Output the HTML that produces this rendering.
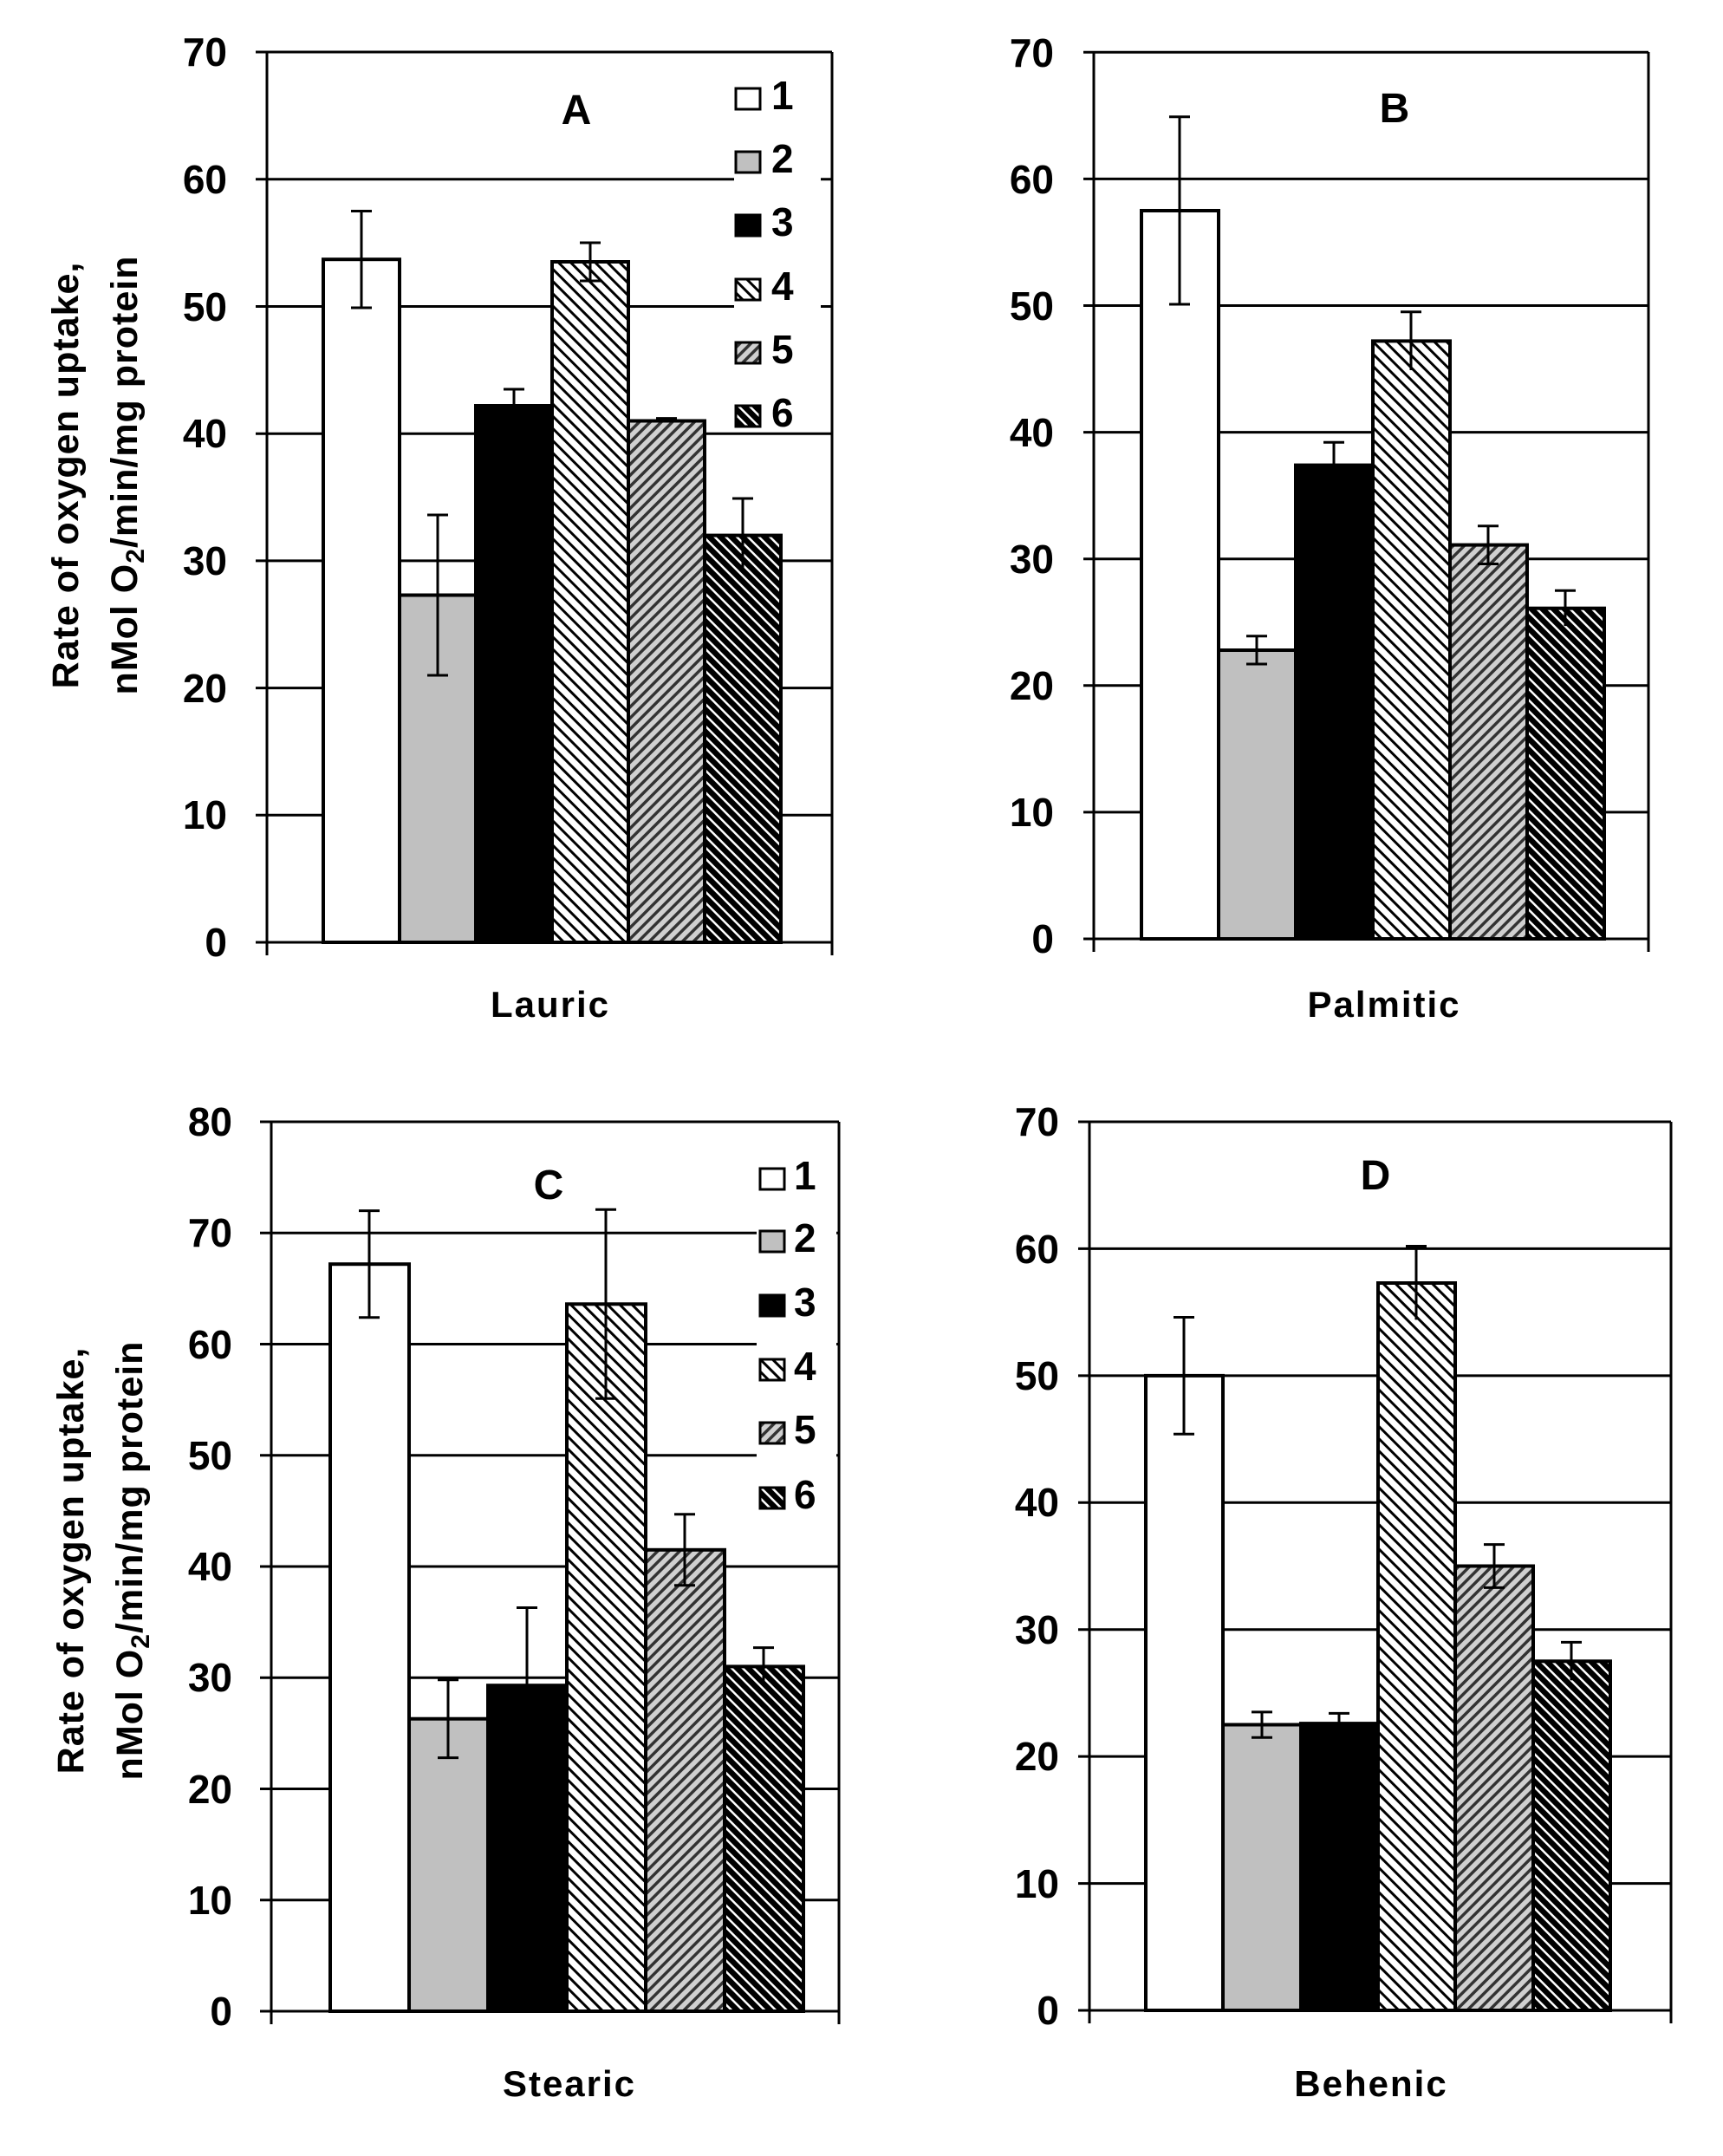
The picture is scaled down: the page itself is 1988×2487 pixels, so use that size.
<!DOCTYPE html>
<html><head><meta charset="utf-8"><style>
html,body{margin:0;padding:0;background:#fff;}
svg{display:block;}
text{font-family:"Liberation Sans",Arial,sans-serif;font-weight:bold;fill:#000;}
</style></head><body>
<svg width="1988" height="2487" viewBox="0 0 1988 2487" xmlns="http://www.w3.org/2000/svg">
<defs>
<pattern id="p4" patternUnits="userSpaceOnUse" width="10" height="10" patternTransform="rotate(-45)">
<rect width="10" height="10" fill="#fff"/><rect width="3" height="10" fill="#000"/></pattern>
<pattern id="p5" patternUnits="userSpaceOnUse" width="9" height="9" patternTransform="rotate(45)">
<rect width="9" height="9" fill="#d0d0d0"/><rect width="3.5" height="9" fill="#333"/></pattern>
<pattern id="p6" patternUnits="userSpaceOnUse" width="9" height="9" patternTransform="rotate(-45)">
<rect width="9" height="9" fill="#000"/><rect width="2.5" height="9" fill="#fff"/></pattern>
</defs>

<!-- ===== Panel A ===== -->
<g stroke="#000" stroke-width="3">
<line x1="295" y1="1087" x2="960" y2="1087"/>
<line x1="295" y1="940.3" x2="960" y2="940.3"/>
<line x1="295" y1="793.6" x2="960" y2="793.6"/>
<line x1="295" y1="646.9" x2="960" y2="646.9"/>
<line x1="295" y1="500.2" x2="960" y2="500.2"/>
<line x1="295" y1="353.5" x2="960" y2="353.5"/>
<line x1="295" y1="206.8" x2="960" y2="206.8"/>
<line x1="295" y1="60" x2="960" y2="60"/>
<line x1="308" y1="60" x2="308" y2="1102"/>
<line x1="960" y1="60" x2="960" y2="1102"/>
</g>
<rect x="847" y="97" width="100" height="400" fill="#fff"/>
<g stroke="#000" stroke-width="4">
<rect x="373" y="299.2" width="88" height="787.8" fill="#fff"/>
<rect x="461" y="686.5" width="88" height="400.5" fill="#c0c0c0"/>
<rect x="549" y="468" width="88" height="619" fill="#000"/>
<rect x="637" y="302" width="88" height="785" fill="url(#p4)"/>
<rect x="725" y="485.5" width="88" height="601.5" fill="url(#p5)"/>
<rect x="813" y="617.6" width="88" height="469.4" fill="url(#p6)"/>
</g>
<g stroke="#000" stroke-width="3">
<line x1="417" y1="243.5" x2="417" y2="355"/><line x1="405" y1="243.5" x2="429" y2="243.5"/><line x1="405" y1="355" x2="429" y2="355"/>
<line x1="505" y1="594" x2="505" y2="779"/><line x1="493" y1="594" x2="517" y2="594"/><line x1="493" y1="779" x2="517" y2="779"/>
<line x1="593" y1="449" x2="593" y2="487"/><line x1="581" y1="449" x2="605" y2="449"/>
<line x1="681" y1="280" x2="681" y2="324"/><line x1="669" y1="280" x2="693" y2="280"/><line x1="669" y1="324" x2="693" y2="324"/>
<line x1="757" y1="482.6" x2="781" y2="482.6"/>
<line x1="857" y1="575" x2="857" y2="660"/><line x1="845" y1="575" x2="869" y2="575"/>
</g>
<g font-size="46" text-anchor="end">
<text x="262" y="1103">0</text><text x="262" y="956">10</text><text x="262" y="810">20</text>
<text x="262" y="663">30</text><text x="262" y="516">40</text><text x="262" y="370">50</text>
<text x="262" y="223">60</text><text x="262" y="76">70</text>
</g>
<text x="665" y="143" font-size="48" text-anchor="middle">A</text>
<text x="635" y="1173" font-size="42" text-anchor="middle" letter-spacing="2">Lauric</text>
<g stroke="#000" stroke-width="3">
<rect x="849" y="102" width="28" height="24" fill="#fff"/>
<rect x="849" y="175" width="28" height="24" fill="#c0c0c0"/>
<rect x="849" y="248" width="28" height="24" fill="#000"/>
<rect x="849" y="322" width="28" height="24" fill="url(#p4)"/>
<rect x="849" y="395" width="28" height="24" fill="url(#p5)"/>
<rect x="849" y="468" width="28" height="24" fill="url(#p6)"/>
</g>
<g font-size="46">
<text x="890" y="126">1</text><text x="890" y="199">2</text><text x="890" y="272">3</text>
<text x="890" y="346">4</text><text x="890" y="419">5</text><text x="890" y="492">6</text>
</g>
<g font-size="43" text-anchor="middle" letter-spacing="1">
<text transform="translate(90,548) rotate(-90)">Rate of oxygen uptake,</text>
<text transform="translate(158,548) rotate(-90)">nMol O<tspan font-size="30" dy="8">2</tspan><tspan dy="-8">/min/mg protein</tspan></text>
</g>

<!-- ===== Panel B ===== -->
<g stroke="#000" stroke-width="3">
<line x1="1250" y1="1083" x2="1902" y2="1083"/>
<line x1="1250" y1="936.9" x2="1902" y2="936.9"/>
<line x1="1250" y1="790.8" x2="1902" y2="790.8"/>
<line x1="1250" y1="644.7" x2="1902" y2="644.7"/>
<line x1="1250" y1="498.6" x2="1902" y2="498.6"/>
<line x1="1250" y1="352.5" x2="1902" y2="352.5"/>
<line x1="1250" y1="206.4" x2="1902" y2="206.4"/>
<line x1="1250" y1="60.3" x2="1902" y2="60.3"/>
<line x1="1262" y1="60" x2="1262" y2="1098"/>
<line x1="1902" y1="60" x2="1902" y2="1098"/>
</g>
<g stroke="#000" stroke-width="4">
<rect x="1317" y="243" width="89" height="840" fill="#fff"/>
<rect x="1406" y="750" width="89" height="333" fill="#c0c0c0"/>
<rect x="1495" y="536.6" width="89" height="546.4" fill="#000"/>
<rect x="1584" y="393.4" width="89" height="689.6" fill="url(#p4)"/>
<rect x="1673" y="628.6" width="89" height="454.4" fill="url(#p5)"/>
<rect x="1762" y="701.7" width="89" height="381.3" fill="url(#p6)"/>
</g>
<g stroke="#000" stroke-width="3">
<line x1="1361" y1="134.8" x2="1361" y2="351"/><line x1="1349" y1="134.8" x2="1373" y2="134.8"/><line x1="1349" y1="351" x2="1373" y2="351"/>
<line x1="1450" y1="733.8" x2="1450" y2="766"/><line x1="1438" y1="733.8" x2="1462" y2="733.8"/><line x1="1438" y1="766" x2="1462" y2="766"/>
<line x1="1539" y1="510.3" x2="1539" y2="563"/><line x1="1527" y1="510.3" x2="1551" y2="510.3"/>
<line x1="1628" y1="359.8" x2="1628" y2="427"/><line x1="1616" y1="359.8" x2="1640" y2="359.8"/>
<line x1="1717" y1="606.7" x2="1717" y2="650.5"/><line x1="1705" y1="606.7" x2="1729" y2="606.7"/><line x1="1705" y1="650.5" x2="1729" y2="650.5"/>
<line x1="1806" y1="681.2" x2="1806" y2="722.1"/><line x1="1794" y1="681.2" x2="1818" y2="681.2"/>
</g>
<g font-size="46" text-anchor="end">
<text x="1216" y="1099">0</text><text x="1216" y="953">10</text><text x="1216" y="807">20</text>
<text x="1216" y="661">30</text><text x="1216" y="515">40</text><text x="1216" y="369">50</text>
<text x="1216" y="223">60</text><text x="1216" y="77">70</text>
</g>
<text x="1609" y="141" font-size="48" text-anchor="middle">B</text>
<text x="1597" y="1173" font-size="42" text-anchor="middle" letter-spacing="2">Palmitic</text>

<!-- ===== Panel C ===== -->
<g stroke="#000" stroke-width="3">
<line x1="300" y1="2320" x2="968" y2="2320"/>
<line x1="300" y1="2191.75" x2="968" y2="2191.75"/>
<line x1="300" y1="2063.5" x2="968" y2="2063.5"/>
<line x1="300" y1="1935.25" x2="968" y2="1935.25"/>
<line x1="300" y1="1807" x2="968" y2="1807"/>
<line x1="300" y1="1678.75" x2="968" y2="1678.75"/>
<line x1="300" y1="1550.5" x2="968" y2="1550.5"/>
<line x1="300" y1="1422.25" x2="968" y2="1422.25"/>
<line x1="300" y1="1294" x2="968" y2="1294"/>
<line x1="313" y1="1294" x2="313" y2="2335"/>
<line x1="968" y1="1294" x2="968" y2="2335"/>
</g>
<rect x="873" y="1330" width="92" height="420" fill="#fff"/>
<g stroke="#000" stroke-width="4">
<rect x="381" y="1458.2" width="91" height="861.8" fill="#fff"/>
<rect x="472" y="1982.7" width="91" height="337.3" fill="#c0c0c0"/>
<rect x="563" y="1944.2" width="91" height="375.8" fill="#000"/>
<rect x="654" y="1504.3" width="91" height="815.7" fill="url(#p4)"/>
<rect x="745" y="1787.8" width="91" height="532.2" fill="url(#p5)"/>
<rect x="836" y="1922.4" width="91" height="397.6" fill="url(#p6)"/>
</g>
<g stroke="#000" stroke-width="3">
<line x1="426" y1="1396.6" x2="426" y2="1519.7"/><line x1="414" y1="1396.6" x2="438" y2="1396.6"/><line x1="414" y1="1519.7" x2="438" y2="1519.7"/>
<line x1="517" y1="1937.8" x2="517" y2="2027.6"/><line x1="505" y1="1937.8" x2="529" y2="1937.8"/><line x1="505" y1="2027.6" x2="529" y2="2027.6"/>
<line x1="608" y1="1854.5" x2="608" y2="1944"/><line x1="596" y1="1854.5" x2="620" y2="1854.5"/>
<line x1="699" y1="1395.3" x2="699" y2="1613.3"/><line x1="687" y1="1395.3" x2="711" y2="1395.3"/><line x1="687" y1="1613.3" x2="711" y2="1613.3"/>
<line x1="790" y1="1746.7" x2="790" y2="1828.8"/><line x1="778" y1="1746.7" x2="802" y2="1746.7"/><line x1="778" y1="1828.8" x2="802" y2="1828.8"/>
<line x1="881" y1="1900.6" x2="881" y2="1944.2"/><line x1="869" y1="1900.6" x2="893" y2="1900.6"/>
</g>
<g font-size="46" text-anchor="end">
<text x="268" y="2336">0</text><text x="268" y="2208">10</text><text x="268" y="2080">20</text>
<text x="268" y="1951">30</text><text x="268" y="1823">40</text><text x="268" y="1695">50</text>
<text x="268" y="1567">60</text><text x="268" y="1438">70</text><text x="268" y="1310">80</text>
</g>
<text x="633" y="1383" font-size="48" text-anchor="middle">C</text>
<text x="657" y="2418" font-size="42" text-anchor="middle" letter-spacing="2">Stearic</text>
<g stroke="#000" stroke-width="3">
<rect x="877" y="1348" width="28" height="24" fill="#fff"/>
<rect x="877" y="1420" width="28" height="24" fill="#c0c0c0"/>
<rect x="877" y="1494" width="28" height="24" fill="#000"/>
<rect x="877" y="1568" width="28" height="24" fill="url(#p4)"/>
<rect x="877" y="1641" width="28" height="24" fill="url(#p5)"/>
<rect x="877" y="1716" width="28" height="24" fill="url(#p6)"/>
</g>
<g font-size="46">
<text x="916" y="1372">1</text><text x="916" y="1444">2</text><text x="916" y="1518">3</text>
<text x="916" y="1592">4</text><text x="916" y="1665">5</text><text x="916" y="1740">6</text>
</g>
<g font-size="43" text-anchor="middle" letter-spacing="1">
<text transform="translate(96,1800) rotate(-90)">Rate of oxygen uptake,</text>
<text transform="translate(164,1800) rotate(-90)">nMol O<tspan font-size="30" dy="8">2</tspan><tspan dy="-8">/min/mg protein</tspan></text>
</g>

<!-- ===== Panel D ===== -->
<g stroke="#000" stroke-width="3">
<line x1="1244" y1="2319" x2="1928" y2="2319"/>
<line x1="1244" y1="2172.6" x2="1928" y2="2172.6"/>
<line x1="1244" y1="2026.1" x2="1928" y2="2026.1"/>
<line x1="1244" y1="1879.7" x2="1928" y2="1879.7"/>
<line x1="1244" y1="1733.3" x2="1928" y2="1733.3"/>
<line x1="1244" y1="1586.9" x2="1928" y2="1586.9"/>
<line x1="1244" y1="1440.4" x2="1928" y2="1440.4"/>
<line x1="1244" y1="1294" x2="1928" y2="1294"/>
<line x1="1257" y1="1294" x2="1257" y2="2334"/>
<line x1="1928" y1="1294" x2="1928" y2="2334"/>
</g>
<g stroke="#000" stroke-width="4">
<rect x="1322" y="1586.9" width="89" height="732.1" fill="#fff"/>
<rect x="1411" y="1989.5" width="90" height="329.5" fill="#c0c0c0"/>
<rect x="1501" y="1988.1" width="89" height="330.9" fill="#000"/>
<rect x="1590" y="1480" width="89" height="839" fill="url(#p4)"/>
<rect x="1679" y="1806.5" width="90" height="512.5" fill="url(#p5)"/>
<rect x="1769" y="1916.3" width="89" height="402.7" fill="url(#p6)"/>
</g>
<g stroke="#000" stroke-width="3">
<line x1="1366" y1="1519.5" x2="1366" y2="1654.2"/><line x1="1354" y1="1519.5" x2="1378" y2="1519.5"/><line x1="1354" y1="1654.2" x2="1378" y2="1654.2"/>
<line x1="1456" y1="1974.9" x2="1456" y2="2004.2"/><line x1="1444" y1="1974.9" x2="1468" y2="1974.9"/><line x1="1444" y1="2004.2" x2="1468" y2="2004.2"/>
<line x1="1545" y1="1976.4" x2="1545" y2="1988"/><line x1="1533" y1="1976.4" x2="1557" y2="1976.4"/>
<line x1="1634" y1="1437.5" x2="1634" y2="1522.4"/><line x1="1622" y1="1437.5" x2="1646" y2="1437.5"/>
<line x1="1724" y1="1781.6" x2="1724" y2="1831.4"/><line x1="1712" y1="1781.6" x2="1736" y2="1781.6"/><line x1="1712" y1="1831.4" x2="1736" y2="1831.4"/>
<line x1="1813" y1="1894.4" x2="1813" y2="1938.3"/><line x1="1801" y1="1894.4" x2="1825" y2="1894.4"/>
</g>
<g font-size="46" text-anchor="end">
<text x="1222" y="2335">0</text><text x="1222" y="2189">10</text><text x="1222" y="2042">20</text>
<text x="1222" y="1896">30</text><text x="1222" y="1749">40</text><text x="1222" y="1603">50</text>
<text x="1222" y="1457">60</text><text x="1222" y="1310">70</text>
</g>
<text x="1587" y="1372" font-size="48" text-anchor="middle">D</text>
<text x="1582" y="2418" font-size="42" text-anchor="middle" letter-spacing="2">Behenic</text>
</svg>
</body></html>
